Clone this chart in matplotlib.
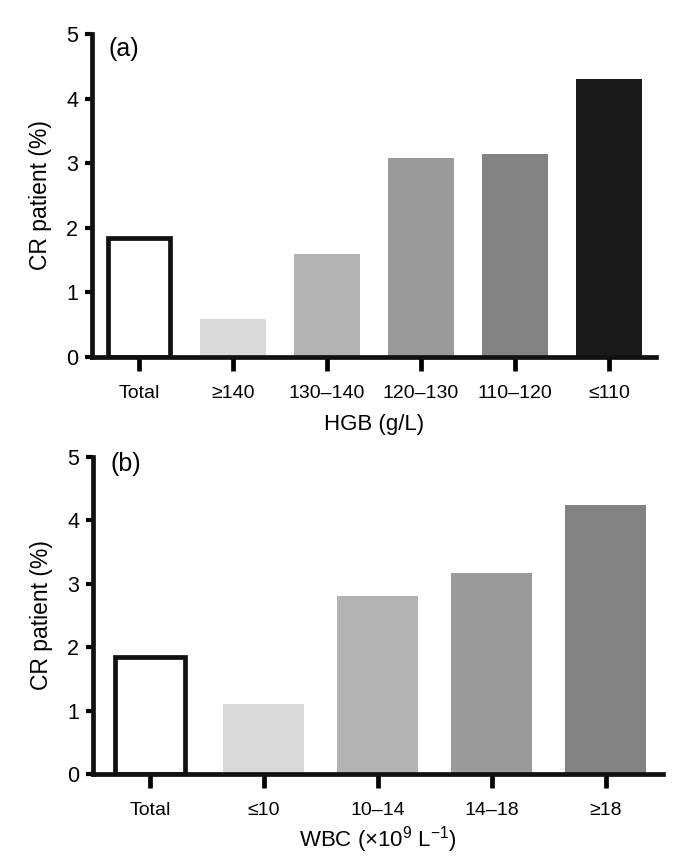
import matplotlib
matplotlib.use("Agg")
import matplotlib.pyplot as plt

plt.rcParams['font.family'] = ['Liberation Sans', 'DejaVu Sans']
plt.rcParams['mathtext.fontset'] = 'custom'
plt.rcParams['mathtext.rm'] = 'Liberation Sans'
plt.rcParams['mathtext.it'] = 'Liberation Sans'

# Panel (a)
hgb_labels = ['Total', '≥140', '130–140', '120–130', '110–120', '≤110']
hgb_values = [1.84, 0.59, 1.59, 3.08, 3.14, 4.30]
hgb_colors = ['white', '#d9d9d9', '#b3b3b3', '#9a9a9a', '#828282', '#1a1a1a']

# Panel (b)
wbc_labels = ['Total', '≤10', '10–14', '14–18', '≥18']
wbc_values = [1.85, 1.10, 2.81, 3.17, 4.24]
wbc_colors = ['white', '#d9d9d9', '#b3b3b3', '#9a9a9a', '#828282']

fig = plt.figure(figsize=(6.99, 8.68), dpi=100)
ax1 = fig.add_axes([0.1316, 0.5887, 0.807, 0.372])
ax2 = fig.add_axes([0.1330, 0.1083, 0.815, 0.3652])

LW = 3.4


def draw(ax, labels, values, colors, total_w, other_w, xlabel, xpad, tag, tag_y):
    x = list(range(len(labels)))
    for i, (v, c) in enumerate(zip(values, colors)):
        if i == 0:
            ax.bar(i, v, width=total_w, color=c, edgecolor='#111111', linewidth=LW, zorder=2)
        else:
            ax.bar(i, v, width=other_w, color=c, edgecolor='none', zorder=2)
    ax.set_xlim(-0.5, len(labels) - 0.5)
    ax.set_ylim(0, 5)
    ax.set_yticks([0, 1, 2, 3, 4, 5])
    ax.set_xticks(x)
    ax.set_xticklabels(labels, fontsize=14)
    ax.tick_params(axis='y', labelsize=15.5, length=5, width=3, direction='out', pad=5)
    ax.tick_params(axis='x', length=10, width=3.4, direction='out', pad=10)
    for s in ['top', 'right']:
        ax.spines[s].set_visible(False)
    for s in ['left', 'bottom']:
        ax.spines[s].set_linewidth(LW)
        ax.spines[s].set_color('#111111')
        ax.spines[s].set_zorder(3)
    ax.set_ylabel('CR patient (%)', fontsize=16.5, labelpad=10)
    ax.set_xlabel(xlabel, fontsize=16, labelpad=xpad)
    ax.text(0.03, tag_y, tag, transform=ax.transAxes, fontsize=18, va='top', ha='left')


draw(ax1, hgb_labels, hgb_values, hgb_colors, 0.65, 0.71, 'HGB (g/L)', 9, '(a)', 0.99)
draw(ax2, wbc_labels, wbc_values, wbc_colors, 0.62, 0.71, 'WBC (×10$^{9}$ L$^{-1}$)', 4, '(b)', 1.015)

fig.savefig('out.png', dpi=100, facecolor='white')
